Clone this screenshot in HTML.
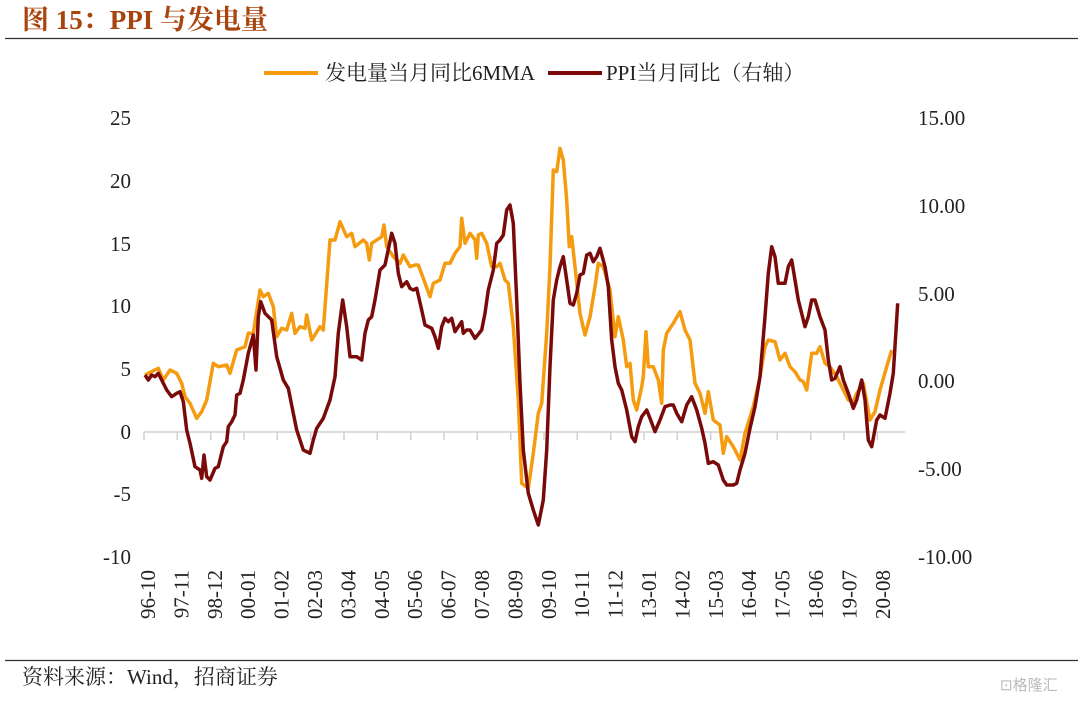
<!DOCTYPE html>
<html><head><meta charset="utf-8"><style>
body{margin:0;background:#fff;width:1080px;height:700px;overflow:hidden;font-family:"Liberation Serif","Noto Serif CJK SC",serif;}
</style></head><body>
<svg width="1080" height="700" viewBox="0 0 1080 700" xmlns="http://www.w3.org/2000/svg" font-family="Liberation Serif, Noto Serif CJK SC, serif">
<text x="22" y="29" font-size="27" font-weight="bold" fill="#a8450f">图 15：PPI 与发电量</text>
<line x1="5" y1="38.5" x2="1078" y2="38.5" stroke="#333" stroke-width="1.2"/>
<line x1="264" y1="73" x2="318" y2="73" stroke="#f59b0f" stroke-width="4"/>
<text x="325" y="80" font-size="21" fill="#222">发电量当月同比6MMA</text>
<line x1="548" y1="73" x2="602" y2="73" stroke="#7a0a0a" stroke-width="4"/>
<text x="606" y="80" font-size="21" fill="#222">PPI当月同比（右轴）</text>
<g font-size="21" fill="#222" text-anchor="end">
<text x="131" y="125">25</text><text x="131" y="188">20</text><text x="131" y="251">15</text><text x="131" y="313">10</text><text x="131" y="376">5</text><text x="131" y="439">0</text><text x="131" y="501">-5</text><text x="131" y="564">-10</text>
</g>
<g font-size="21" fill="#222">
<text x="918" y="125">15.00</text><text x="918" y="213">10.00</text><text x="918" y="301">5.00</text><text x="918" y="388">0.00</text><text x="918" y="476">-5.00</text><text x="918" y="564">-10.00</text>
</g>
<line x1="144" y1="432" x2="905" y2="432" stroke="#d0d0d0" stroke-width="1.5"/>
<g stroke="#d0d0d0" stroke-width="1.5">
<line x1="144" y1="432" x2="144" y2="440"/><line x1="177.3" y1="432" x2="177.3" y2="440"/><line x1="210.7" y1="432" x2="210.7" y2="440"/><line x1="244" y1="432" x2="244" y2="440"/><line x1="277.3" y1="432" x2="277.3" y2="440"/><line x1="310.7" y1="432" x2="310.7" y2="440"/><line x1="344" y1="432" x2="344" y2="440"/><line x1="377.3" y1="432" x2="377.3" y2="440"/><line x1="410.7" y1="432" x2="410.7" y2="440"/><line x1="444" y1="432" x2="444" y2="440"/><line x1="477.3" y1="432" x2="477.3" y2="440"/><line x1="510.7" y1="432" x2="510.7" y2="440"/><line x1="544" y1="432" x2="544" y2="440"/><line x1="577.3" y1="432" x2="577.3" y2="440"/><line x1="610.7" y1="432" x2="610.7" y2="440"/><line x1="644" y1="432" x2="644" y2="440"/><line x1="677.3" y1="432" x2="677.3" y2="440"/><line x1="710.7" y1="432" x2="710.7" y2="440"/><line x1="744" y1="432" x2="744" y2="440"/><line x1="777.3" y1="432" x2="777.3" y2="440"/><line x1="810.7" y1="432" x2="810.7" y2="440"/><line x1="844" y1="432" x2="844" y2="440"/><line x1="877.3" y1="432" x2="877.3" y2="440"/>
</g>
<g font-size="21" fill="#222" text-anchor="end">
<text transform="translate(155,570) rotate(-90)">96-10</text>
<text transform="translate(188.4,570) rotate(-90)">97-11</text>
<text transform="translate(221.8,570) rotate(-90)">98-12</text>
<text transform="translate(255.2,570) rotate(-90)">00-01</text>
<text transform="translate(288.6,570) rotate(-90)">01-02</text>
<text transform="translate(322,570) rotate(-90)">02-03</text>
<text transform="translate(355.4,570) rotate(-90)">03-04</text>
<text transform="translate(388.8,570) rotate(-90)">04-05</text>
<text transform="translate(422.2,570) rotate(-90)">05-06</text>
<text transform="translate(455.6,570) rotate(-90)">06-07</text>
<text transform="translate(489,570) rotate(-90)">07-08</text>
<text transform="translate(522.4,570) rotate(-90)">08-09</text>
<text transform="translate(555.8,570) rotate(-90)">09-10</text>
<text transform="translate(589.2,570) rotate(-90)">10-11</text>
<text transform="translate(622.6,570) rotate(-90)">11-12</text>
<text transform="translate(656,570) rotate(-90)">13-01</text>
<text transform="translate(689.4,570) rotate(-90)">14-02</text>
<text transform="translate(722.8,570) rotate(-90)">15-03</text>
<text transform="translate(756.2,570) rotate(-90)">16-04</text>
<text transform="translate(789.6,570) rotate(-90)">17-05</text>
<text transform="translate(823,570) rotate(-90)">18-06</text>
<text transform="translate(856.4,570) rotate(-90)">19-07</text>
<text transform="translate(889.8,570) rotate(-90)">20-08</text>
</g>
<polyline fill="none" stroke="#f59b0f" stroke-width="3.5" stroke-linejoin="round" points="145,375 158.3,368.3 163.3,380 170,370 176.7,373.3 181.7,383.3 185,396.7 190,403.3 196.7,418.3 201.7,411.7 206.7,400 213.3,363.3 218.3,366.7 226.7,365 230,373.3 236.7,350 245,346.7 248.3,333.3 253.3,333.3 260,290 263.3,296.7 268.3,293.3 273.3,306.7 276.7,336.7 281.7,328.3 286.7,330 291.7,313.3 295,333.3 300,326.7 305,328.3 306.7,315 311.7,340 320,326.7 323.3,330 330,240 335,240 340,221.7 346.7,236.7 351.7,233.3 355,246.7 363.3,240 366.7,243.3 369.3,260 371.7,243.3 381.7,236.7 384,225 386.7,246.7 393.3,256.7 400,263.3 403.3,255 410,266.7 415,265 418.3,265 423.3,278.3 430,296.7 433.3,283.3 440,280 445,263.3 450,263.3 455,253.3 460,246.7 461.7,218.3 465,243.3 470,233.3 475,240 476.7,258.3 478.3,235 481.7,233.3 486.7,243.3 491.7,266.7 496.7,266.7 500,263.3 505,280 508.3,283.3 513.3,326.7 518.3,400 521.7,483.3 528.3,488.3 533.3,453.3 538.3,413.3 541.7,403.3 546.7,333.3 550,266.7 553.3,170 556.7,171.7 560,148.3 563.3,160 566.7,200 569.3,246.7 571.7,236.7 575,266.7 580,313.3 585,335 590,316.7 595,286.7 598.3,263.3 603.3,266.7 610,290 615,336.7 618.3,316.7 623.3,340 626.7,366.7 630,363.3 633.3,400 636.7,410 641.7,386.7 643.3,376.7 646,331.7 648.3,366.7 653.3,366.7 658.3,380 661.7,403.3 663.3,350 666.7,333.3 673.3,323.3 680,311.7 685,330 690,340 695,383.3 700,393.3 705,413.3 708.3,391.7 713.3,420 720,425 723.3,453.3 726.7,436.7 733.3,446.7 740,460 745,433.3 753.3,406.7 760,376.7 765,346.7 768.3,340 775,341.7 780,360 785,353.3 790,366.7 795,371.7 800,380 803.3,381.7 806.7,390 811.7,353.3 816.7,353.3 820,346.7 825,363.3 830,366.7 836.7,376.7 841.7,386.7 848.3,400 853.3,401.7 856.7,393.3 863.3,383.3 870,420 875,411.7 880,390 886.7,366.7 891.7,350"/>
<polyline fill="none" stroke="#7a0a0a" stroke-width="3.5" stroke-linejoin="round" points="145,375 148.3,380 151.7,375 155,376.7 158.3,373.3 161.7,380 166.7,390 171.7,396.7 176.7,393.3 180,391.7 183.3,401.7 186.7,430 190,443.3 195,466.7 200,470 201.7,478.3 204,455 206.7,476.7 210,480 215,468.3 218.3,466.7 223.3,446.7 226.7,441.7 228.3,426.7 231.7,421.7 235,415 236.7,395 240,393.3 243.3,380 248.3,353.3 253.3,335 256,370 258.3,316.7 260.7,301.7 265,313.3 271.7,320 276.7,356.7 283.3,380 288.3,388.3 293.3,413.3 296.7,430 303.3,450 310,453.3 313.3,440 316.7,428.3 323.3,418.3 330,400 335,376.7 338.3,333.3 342.7,300 346.7,326.7 350,356.7 356.7,356.7 361.7,360 365,333.3 368.3,320 371.7,316.7 375,300 380,270 385,265 391.7,233.3 395,243.3 398.3,273.3 401.7,286.7 406.7,281.7 410,288.3 413.3,290 416.7,288.3 421.7,310 425,325 431.7,328.3 435,336.7 438.3,348.3 441.7,326.7 445,318.3 448.3,321.7 451.7,318.3 455,331.7 458.3,326.7 461.7,321.7 463.3,333.3 466.7,330 470,330 475,338.3 481.7,330 485,313.3 488.3,290 493.3,270 496.7,243.3 500,240 503.3,235 506.7,210 510,205 513.3,223.3 516.7,300 520,383.3 523.3,450 528.3,493.3 533.3,510 538.3,525 543.3,500 546.7,450 550,366.7 553.3,300 556.7,280 560,266.7 563.3,256.7 566.7,280 570,303.3 573.3,305 576.7,293.3 580,275 583.3,273.3 586.7,255 590,253.3 593.3,261.7 596.7,256.7 600,248.3 605,266.7 608.3,286.7 611.7,340 615,366.7 618.3,383.3 621.7,390 626.7,410 631.7,436.7 635,441.7 638.3,426.7 641.7,416.7 646.7,410 650,418.3 655,431.7 660,420 665,406.7 670,405 673.3,405 676.7,413.3 681.7,421.7 686.7,405 691.7,396.7 696.7,410 701.7,428.3 705,443.3 708.3,463.3 713.3,461.7 718.3,465 723.3,480 726.7,485 733.3,485 736.7,483.3 740,470 745,453.3 750,428.3 755,406.7 760,376.7 765,316.7 768.3,273.3 771.7,246.7 775,256.7 778.3,283.3 785,283.3 788.3,266.7 791.7,260 795,280 798.3,300 805,326.7 808.3,316.7 811.7,300 815,300 820,316.7 825,330 828.3,360 831.7,380 835,378.3 840,366.7 843.3,380 848.3,393.3 853.3,408.3 856.7,400 861.7,380 865,400 868.3,440 871.7,446.7 876.7,420 880,415 885,418.3 890,393.3 893.3,373.3 897.7,303.3"/>
<line x1="5" y1="660.5" x2="1078" y2="660.5" stroke="#333" stroke-width="1.2"/>
<text x="22" y="684" font-size="21" fill="#222">资料来源：Wind，招商证券</text>
<text x="1000" y="690" font-size="15" fill="#bbb" font-family="Noto Sans CJK SC, sans-serif">⊡格隆汇</text>
</svg>
</body></html>
